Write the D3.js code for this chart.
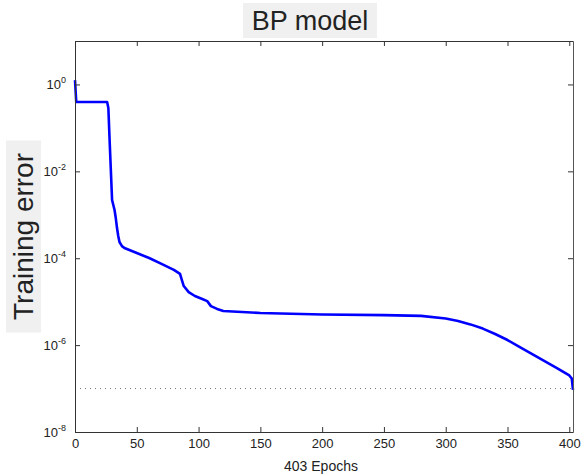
<!DOCTYPE html>
<html>
<head>
<meta charset="utf-8">
<script src="https://cdn.jsdelivr.net/npm/d3@7"></script>
<style>
    body { margin: 0; background: #fff; }
    .chart { width: 581px; height: 476px; }
    text { font-family: "Liberation Sans", Arial, sans-serif; fill: #222; }
</style>
</head>
<body>
<div class="chart"></div>
<script>
// DATA //
var epochs = [0, 1, 26, 27, 28, 29, 30, 31, 32, 33, 34, 35, 36, 38, 40, 50, 60, 70, 80, 85, 86, 88, 92, 97, 103, 107, 110, 115, 120, 150, 200, 250, 280, 300, 310, 320, 330, 340, 350, 360, 370, 380, 390, 400, 402, 403];
var errors = [1.26, 0.394, 0.394, 0.287, 0.0526, 0.0107, 0.00219, 0.00168, 0.00129, 0.00084, 4.95e-4, 3.24e-4, 2.36e-4, 1.9e-4, 1.72e-4, 1.32e-4, 1.01e-4, 7.4e-5, 5.4e-5, 4.35e-5, 3.5e-5, 2.29e-5, 1.66e-5, 1.35e-5, 1.15e-5, 1.03e-5, 7.9e-6, 6.8e-6, 6.1e-6, 5.5e-6, 5.06e-6, 4.9e-6, 4.7e-6, 4.1e-6, 3.58e-6, 3.0e-6, 2.4e-6, 1.8e-6, 1.31e-6, 9.0e-7, 6.2e-7, 4.3e-7, 2.97e-7, 2.0e-7, 1.7e-7, 9.3e-8];
var xTicks = [0, 50, 100, 150, 200, 250, 300, 350, 400];
var yExponents = [0, -2, -4, -6, -8];
var goal = 1e-7;
var titleText = 'BP model';
var xLabelText = '403 Epochs';
var yLabelText = 'Training error';

// LAYOUT //
var width = 581,
    height = 476,
    margin = { top: 41, right: 8, bottom: 44, left: 75 };

var svg = d3.select('.chart').append('svg')
    .attr('width', width)
    .attr('height', height);

var xScale = d3.scaleLinear().domain([0, 403]).range([margin.left, width - margin.right]);
var yScale = d3.scaleLog().domain([1e-8, 10]).range([height - margin.bottom, margin.top]);

var data = epochs.map(function(e, i) {
    return { epoch: e, value: errors[i] };
});

// GOAL LINE //
svg.append('line')
    .attr('x1', xScale.range()[0])
    .attr('x2', xScale.range()[1])
    .attr('y1', yScale(goal))
    .attr('y2', yScale(goal))
    .attr('stroke', '#777')
    .attr('stroke-width', 1)
    .attr('stroke-dasharray', '1,4');

// TRAINING CURVE //
var line = d3.line()
    .x(function(d) { return xScale(d.epoch); })
    .y(function(d) { return yScale(d.value); });

svg.append('path')
    .datum(data)
    .attr('fill', 'none')
    .attr('stroke', '#0000ff')
    .attr('stroke-width', 2.6)
    .attr('stroke-linejoin', 'round')
    .attr('d', line);

// AXES (box with inner ticks on all sides) //
var x0 = xScale.range()[0], x1 = xScale.range()[1],
    y0 = yScale.range()[0], y1 = yScale.range()[1];

svg.append('g')
    .attr('transform', 'translate(0,' + y0 + ')')
    .call(d3.axisBottom(xScale).tickValues(xTicks).tickSizeInner(-5).tickSizeOuter(0).tickPadding(7))
    .call(function(g) {
        g.select('.domain').attr('stroke', '#333');
        g.selectAll('line').attr('stroke', '#333');
        g.selectAll('text').attr('font-size', 13).attr('fill', '#222')
            .attr('font-family', '"Liberation Sans", Arial, sans-serif');
    });

svg.append('g')
    .attr('transform', 'translate(0,' + y1 + ')')
    .call(d3.axisTop(xScale).tickValues(xTicks).tickSizeInner(-5).tickSizeOuter(0).tickFormat(''))
    .call(function(g) {
        g.select('.domain').attr('stroke', '#333');
        g.selectAll('line').attr('stroke', '#333');
    });

var yTickValues = yExponents.map(function(p) { return Math.pow(10, p); });

svg.append('g')
    .attr('transform', 'translate(' + x0 + ',0)')
    .call(d3.axisLeft(yScale).tickValues(yTickValues).tickSizeInner(-5).tickSizeOuter(0).tickFormat(''))
    .call(function(g) {
        g.select('.domain').attr('stroke', '#333');
        g.selectAll('line').attr('stroke', '#333');
    });

svg.append('g')
    .attr('transform', 'translate(' + x1 + ',0)')
    .call(d3.axisRight(yScale).tickValues(yTickValues).tickSizeInner(-5).tickSizeOuter(0).tickFormat(''))
    .call(function(g) {
        g.select('.domain').attr('stroke', '#555');
        g.selectAll('line').attr('stroke', '#333');
    });

// y tick labels as 10 with a raised exponent
var yLabels = svg.append('g').selectAll('text')
    .data(yExponents)
    .enter().append('text')
    .attr('x', x0 - 9)
    .attr('y', function(p) { return yScale(Math.pow(10, p)) + 5; })
    .attr('text-anchor', 'end')
    .attr('font-size', 13);

yLabels.append('tspan').text('10');
yLabels.append('tspan')
    .attr('dy', -6)
    .attr('font-size', 9)
    .text(function(p) { return p; });

// TITLE //
var titleX = (x0 + x1) / 2 - 14;
svg.append('rect')
    .attr('x', titleX - 67)
    .attr('y', 3)
    .attr('width', 134)
    .attr('height', 35)
    .attr('fill', '#f0f0f0');
svg.append('text')
    .attr('x', titleX)
    .attr('y', 30)
    .attr('text-anchor', 'middle')
    .attr('font-size', 27)
    .text(titleText);

// X LABEL //
svg.append('text')
    .attr('x', (x0 + x1) / 2 - 3)
    .attr('y', 471)
    .attr('text-anchor', 'middle')
    .attr('font-size', 14)
    .text(xLabelText);

// Y LABEL //
var yMid = (y0 + y1) / 2;
svg.append('rect')
    .attr('x', 6)
    .attr('y', yMid - 96)
    .attr('width', 35)
    .attr('height', 192)
    .attr('fill', '#f0f0f0');
svg.append('text')
    .attr('transform', 'translate(33,' + yMid + ') rotate(-90)')
    .attr('text-anchor', 'middle')
    .attr('font-size', 28)
    .text(yLabelText);
</script>
</body>
</html>
